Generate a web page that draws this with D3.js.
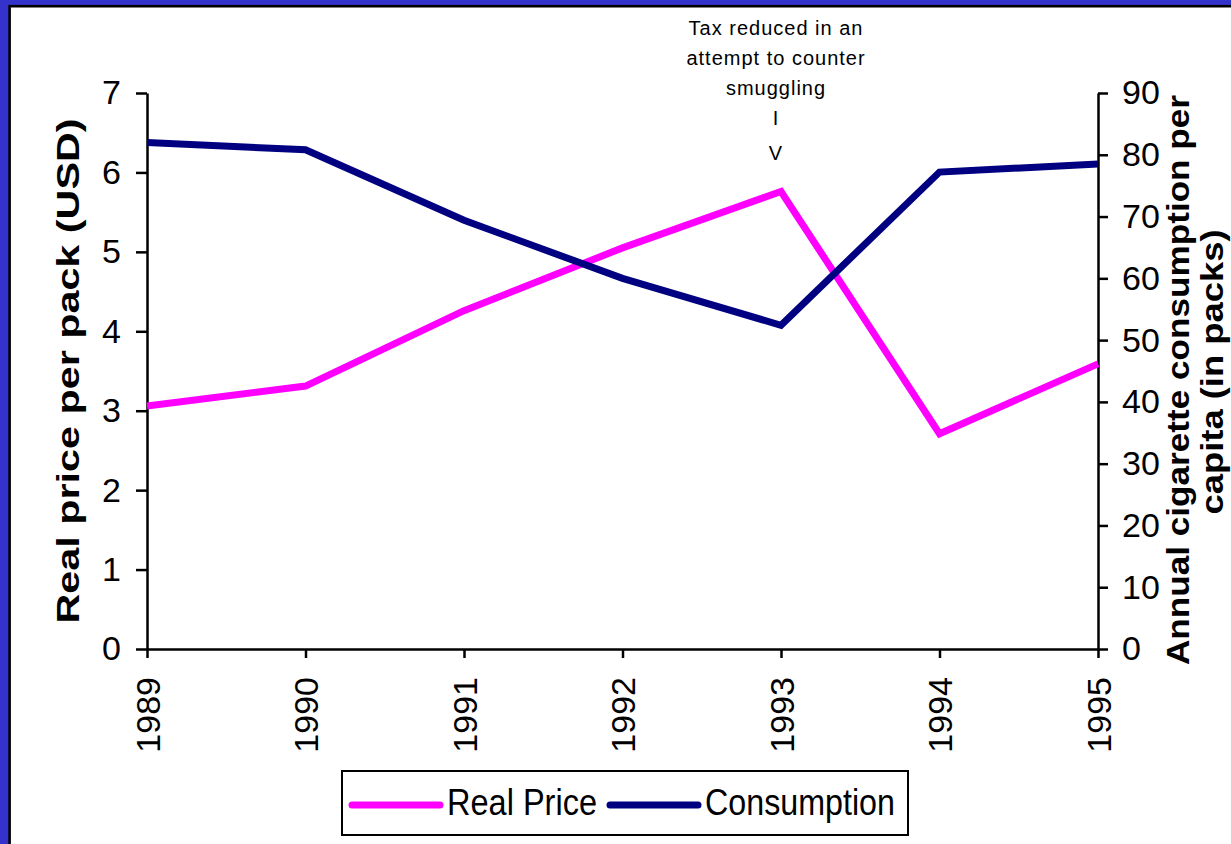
<!DOCTYPE html>
<html>
<head>
<meta charset="utf-8">
<script src="https://cdn.jsdelivr.net/npm/d3@7"></script>
<style>
  body { margin: 0; background: #3333cc; overflow: hidden; }
  svg { display: block; }
  text { font-family: "Liberation Sans", Arial, sans-serif; }
</style>
</head>
<body>
<script>
// chart data
var years = ["1989", "1990", "1991", "1992", "1993", "1994", "1995"];
var realPrice = [3.06, 3.31, 4.26, 5.05, 5.76, 2.71, 3.59];
var consumption = [82.0, 80.8, 69.4, 60.0, 52.4, 77.2, 78.5];
var leftTicks = [0, 1, 2, 3, 4, 5, 6, 7];
var rightTicks = [0, 10, 20, 30, 40, 50, 60, 70, 80, 90];
var noteLines = ["Tax reduced in an", "attempt to counter", "smuggling", "I", "V"];

var width = 1231, height = 844;

var svg = d3.select("body").append("svg")
  .attr("width", width)
  .attr("height", height);

svg.append("rect")
  .attr("width", width).attr("height", height)
  .attr("fill", "#3333cc");

// white panel with black edge (runs off right and bottom)
svg.append("rect")
  .attr("x", 9.6).attr("y", 6.2)
  .attr("width", width + 20).attr("height", height + 20)
  .attr("fill", "#fff")
  .attr("stroke", "#000")
  .attr("stroke-width", 2.6);

var x = d3.scalePoint().domain(years).range([147, 1098]);
var yL = d3.scaleLinear().domain([0, 7]).range([649, 93]);
var yR = d3.scaleLinear().domain([0, 90]).range([649, 93]);

function styleAxis(g) {
  g.selectAll("path, line").attr("stroke", "#000").attr("stroke-width", 2.5);
  g.selectAll("text").attr("fill", "#000").style("font-size", "34px")
    .style("font-family", "'Liberation Sans', Arial, sans-serif");
}

var axL = svg.append("g")
  .attr("transform", "translate(147,0)")
  .call(d3.axisLeft(yL).tickValues(leftTicks).tickFormat(d3.format("d"))
    .tickSize(11).tickSizeOuter(0).tickPadding(15));
styleAxis(axL);

var axR = svg.append("g")
  .attr("transform", "translate(1098,0)")
  .call(d3.axisRight(yR).tickValues(rightTicks).tickFormat(d3.format("d"))
    .tickSize(10).tickSizeOuter(0).tickPadding(14));
styleAxis(axR);

var axX = svg.append("g")
  .attr("transform", "translate(0,649)")
  .call(d3.axisBottom(x).tickSize(9).tickSizeOuter(0));
styleAxis(axX);
axX.selectAll("text")
  .attr("transform", "rotate(-90)")
  .attr("text-anchor", "end")
  .attr("x", -28)
  .attr("y", 0)
  .attr("dy", "0.36em");

// lines
var linePrice = d3.line()
  .x(function(d, i) { return x(years[i]); })
  .y(function(d) { return yL(d); });
var lineCons = d3.line()
  .x(function(d, i) { return x(years[i]); })
  .y(function(d) { return yR(d); });

svg.append("path")
  .datum(realPrice)
  .attr("d", linePrice)
  .attr("fill", "none")
  .attr("stroke", "#ff00ff")
  .attr("stroke-width", 7)
  .attr("stroke-linejoin", "miter");

svg.append("path")
  .datum(consumption)
  .attr("d", lineCons)
  .attr("fill", "none")
  .attr("stroke", "#000080")
  .attr("stroke-width", 7)
  .attr("stroke-linejoin", "miter");

// axis titles
svg.append("text")
  .attr("transform", "translate(79,371) rotate(-90)")
  .attr("text-anchor", "middle")
  .attr("font-weight", "bold")
  .attr("font-size", 32)
  .attr("textLength", 505)
  .attr("lengthAdjust", "spacingAndGlyphs")
  .text("Real price per pack (USD)");

svg.append("text")
  .attr("transform", "translate(1189,380) rotate(-90)")
  .attr("text-anchor", "middle")
  .attr("font-weight", "bold")
  .attr("font-size", 32)
  .attr("textLength", 570)
  .attr("lengthAdjust", "spacingAndGlyphs")
  .text("Annual cigarette consumption per");

// second title line sits against the right edge, as in the original
svg.append("text")
  .attr("transform", "translate(1223,372) rotate(-90)")
  .attr("text-anchor", "middle")
  .attr("font-weight", "bold")
  .attr("font-size", 32)
  .attr("textLength", 285)
  .attr("lengthAdjust", "spacingAndGlyphs")
  .text("capita (in packs)");

// annotation
svg.append("g").selectAll("text")
  .data(noteLines)
  .enter().append("text")
  .attr("x", 776)
  .attr("y", function(d, i) { return [35, 65, 95, 125, 160][i]; })
  .attr("text-anchor", "middle")
  .attr("font-size", 20)
  .attr("letter-spacing", 1)
  .attr("fill", "#000")
  .text(function(d) { return d; });

// legend
var legend = svg.append("g");
legend.append("rect")
  .attr("x", 342).attr("y", 771)
  .attr("width", 566).attr("height", 64)
  .attr("fill", "#fff")
  .attr("stroke", "#000")
  .attr("stroke-width", 2);

var legItems = [
  { name: "Real Price", color: "#ff00ff", x0: 352, len: 150 },
  { name: "Consumption", color: "#000080", x0: 610, len: 190 }
];
legItems.forEach(function(it) {
  legend.append("line")
    .attr("x1", it.x0).attr("x2", it.x0 + 88)
    .attr("y1", 805).attr("y2", 805)
    .attr("stroke", it.color)
    .attr("stroke-width", 7)
    .attr("stroke-linecap", "round");
  legend.append("text")
    .attr("x", it.x0 + 95)
    .attr("y", 815)
    .attr("font-size", 36)
    .attr("textLength", it.len)
    .attr("lengthAdjust", "spacingAndGlyphs")
    .attr("fill", "#000")
    .text(it.name);
});
</script>
</body>
</html>
